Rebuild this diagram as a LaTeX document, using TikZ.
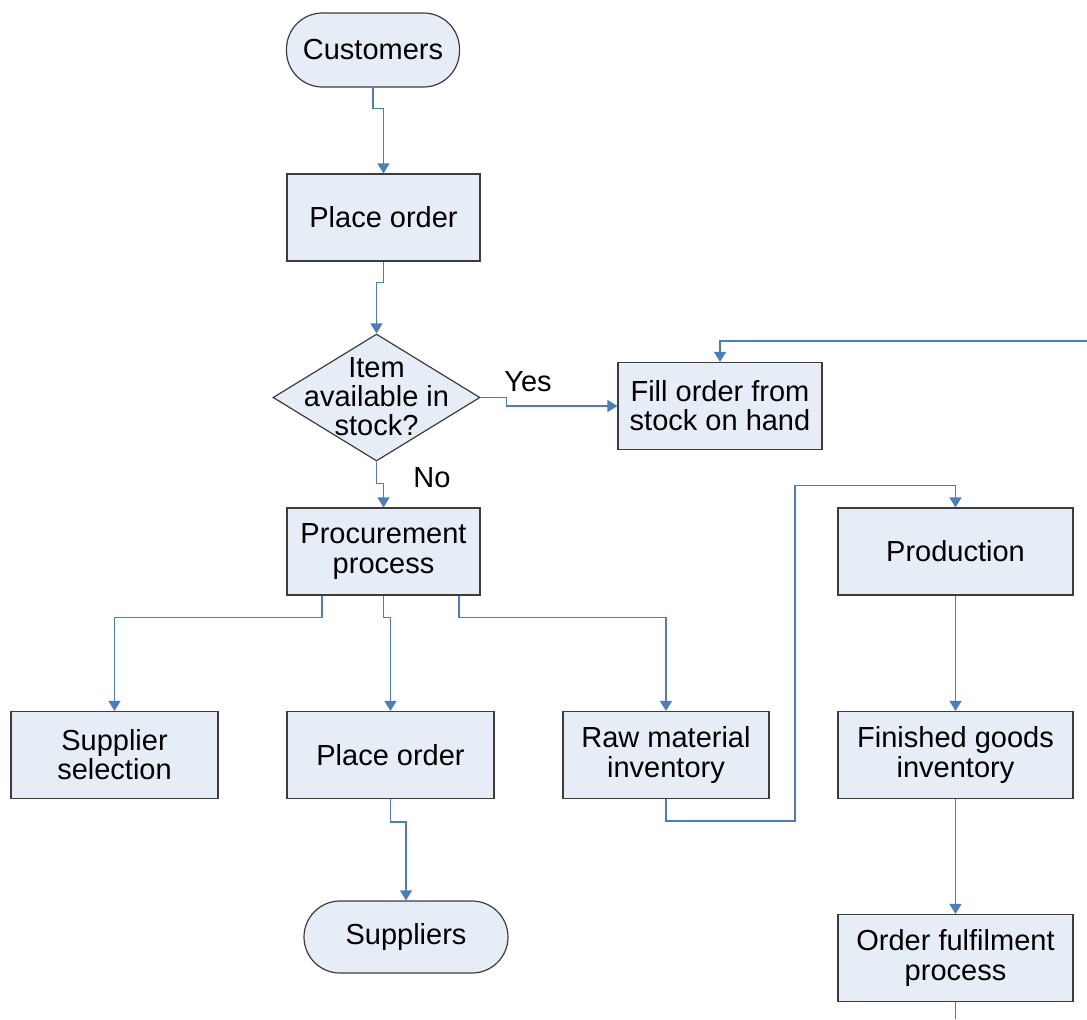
\documentclass[tikz,border=0pt]{standalone}
\usepackage{fontspec}
\setmainfont{Liberation Sans}
\usetikzlibrary{shapes.geometric,arrows.meta,calc}
\definecolor{boxfill}{HTML}{E7EDF7}
\definecolor{boxline}{HTML}{3C3C3C}
\definecolor{connblue}{HTML}{4A7EBB}
\begin{document}
\begin{tikzpicture}[x=0.5pt,y=-0.5pt,
  every node/.style={font={\fontsize{14.5pt}{14.6pt}\selectfont}},
  procbox/.style={rectangle,draw=boxline,fill=boxfill,line width=0.6pt,align=center,inner sep=0pt},
  termbox/.style={rectangle,rounded corners=18pt,draw=boxline,fill=boxfill,line width=0.6pt,align=center,inner sep=0pt},
  decbox/.style={diamond,draw=boxline,fill=boxfill,line width=0.6pt,inner sep=0pt,minimum width=103.5pt,minimum height=63.5pt},
  conn/.style={draw=connblue,line width=0.65pt,-{Triangle[length=5pt,width=6pt]}},
  lbl/.style={inner sep=0pt}]
\useasboundingbox (0,0) rectangle (1087,1019);

\node[termbox,minimum width=86.5pt,minimum height=37pt] (cust) at (373,50) {Customers};
\node[procbox,minimum width=96.5pt,minimum height=43.5pt] (po1) at (383.5,217.5) {Place order};
\node[decbox] (dec) at (376.5,397.5) {\raisebox{-5.2pt}[0pt][0pt]{\makebox[0pt]{\begin{tabular}{@{}c@{}}Item\\[-0.4pt]available in\\[-0.4pt]stock?\end{tabular}}}};
\node[procbox,minimum width=102pt,minimum height=43.5pt] (fill) at (720,406) {Fill order from\\stock on hand};
\node[procbox,minimum width=96.5pt,minimum height=43.5pt] (proc) at (383.5,551.5) {Procurement\\process};
\node[procbox,minimum width=117.5pt,minimum height=43.5pt] (prod) at (955.5,551.5) {Production};
\node[procbox,minimum width=103.5pt,minimum height=43.5pt] (sup) at (114.5,755) {Supplier\\selection};
\node[procbox,minimum width=103.5pt,minimum height=43.5pt] (po2) at (390.5,755) {Place order};
\node[procbox,minimum width=103pt,minimum height=43.5pt] (raw) at (666,755) {Raw material\\inventory};
\node[procbox,minimum width=117.5pt,minimum height=43.5pt] (fin) at (955.5,755) {Finished goods\\inventory};
\node[termbox,minimum width=102pt,minimum height=36pt] (supp) at (406,937) {Suppliers};
\node[procbox,minimum width=117.5pt,minimum height=43.5pt] (ful) at (955.5,958) {Order fulfilment\\process};

\node[lbl] (yes) at (528,382) {Yes};
\node[lbl] (no) at (432,478) {No};

\coordinate (topR) at (1087,341);
\coordinate (botE) at (955.5,1019);

\draw[conn] (cust.south) -- ++(0,21) -| (po1.north);
\draw[conn] (po1.south) -- ++(0,21) -| (dec.north);
\draw[conn] (dec.east) -- ++(26,0) |- (fill.west);
\draw[conn] (dec.south) -- ++(0,22) -| (proc.north);
\draw[conn] ($(proc.south)+(-61.5,0)$) -- ++(0,22) -| (sup.north);
\draw[conn] (proc.south) -- ++(0,22) -| (po2.north);
\draw[conn] ($(proc.south)+(75.5,0)$) -- ++(0,22) -| (raw.north);
\draw[conn] (raw.south) -- ++(0,22) -| ($(prod.north)+(-160.5,-22)$) -- ($(prod.north)+(0,-22)$) -- (prod.north);
\draw[conn] (prod.south) -- (fin.north);
\draw[conn] (fin.south) -- (ful.north);
\draw[draw=connblue,line width=0.65pt] (ful.south) -- (botE);
\draw[conn] (topR) -| (fill.north);
\draw[conn] (po2.south) -- ++(0,23) -| (supp.north);
\end{tikzpicture}
\end{document}
